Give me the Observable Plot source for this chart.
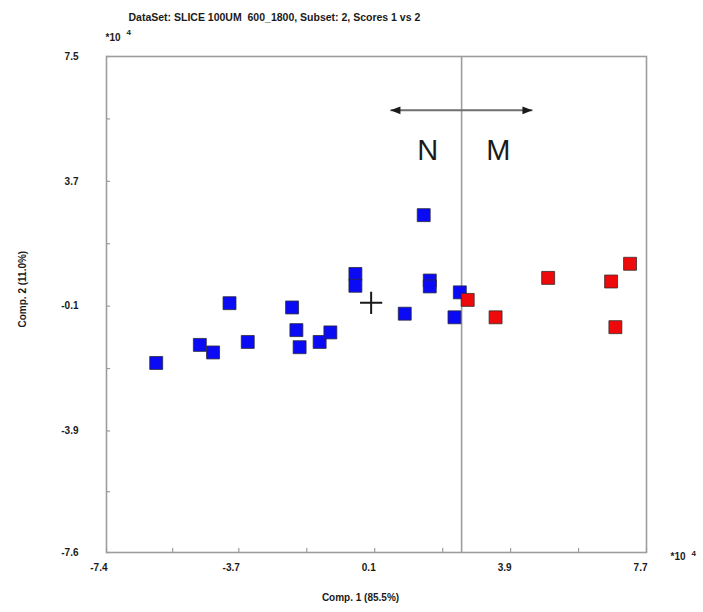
<!DOCTYPE html>
<html>
<head>
<meta charset="utf-8">
<script src="https://cdn.jsdelivr.net/npm/d3@7"></script>
<script src="https://cdn.jsdelivr.net/npm/@observablehq/plot@0.6"></script>
<style>
  html, body { margin: 0; padding: 0; background: #fff; }
  #chart svg { display: block; }
</style>
</head>
<body>
<div id="chart"></div>
<script>
// ---- Data (scores, units ×10^4) ----
const normalX = [-6.01, -4.79, -4.42, -3.96, -3.45, -2.21, -2.09, -2.00, -1.44, -1.14, -0.44, -0.44, 1.47, 1.64, 1.64, 2.48, 0.94, 2.33];
const normalY = [-1.83, -1.28, -1.51, -0.01, -1.19, -0.14, -0.83, -1.35, -1.19, -0.90, 0.88, 0.52, 2.67, 0.68, 0.50, 0.32, -0.33, -0.44];
const mutantX = [2.70, 3.48, 4.95, 6.71, 7.24, 6.83];
const mutantY = [0.09, -0.44, 0.76, 0.65, 1.19, -0.74];

// ---- Axis ticks ----
const xTickValues = [-7.4, -3.7, 0.1, 3.9, 7.7];
const xTickLabels = ["-7.4", "-3.7", "0.1", "3.9", "7.7"];
const xMinorTicks = [-5.55, -1.8, 2.0, 5.8];
const yTickValues = [-7.6, -3.9, -0.1, 3.7, 7.5];
const yTickLabels = ["-7.6", "-3.9", "-0.1", "3.7", "7.5"];
const yMinorTicks = [-5.75, -2.0, 1.8, 5.6];

// ---- Annotations ----
const dividerX = [2.53];
const arrowY = 5.86;
const arrowLeft = 0.54;
const arrowRight = 4.51;
const groupLabels = ["N", "M"];
const groupLabelX = [1.58, 3.56];
const groupLabelY = [4.64, 4.64];
const centerMark = [{x: 0, y: 0}];

const titleText = "DataSet: SLICE 100UM  600_1800, Subset: 2, Scores 1 vs 2";
const xLabel = "Comp. 1 (85.5%)";
const yLabel = "Comp. 2 (11.0%)";
const scaleNote = "*10";
const scaleExp = "4";

// ---- Build tables ----
const normal = normalX.map((x, i) => ({x, y: normalY[i]}));
const mutant = mutantX.map((x, i) => ({x, y: mutantY[i]}));
const arrowLine = [{x1: arrowLeft, x2: arrowRight, y: arrowY}];
const arrowHeads = [{x: arrowLeft, y: arrowY, rot: -90}, {x: arrowRight, y: arrowY, rot: 90}];
const labelsNM = groupLabels.map((t, i) => ({t, x: groupLabelX[i], y: groupLabelY[i]}));

const headSymbol = {
  draw(ctx) {
    ctx.moveTo(0, 0);
    ctx.lineTo(-3.8, 10);
    ctx.lineTo(3.8, 10);
    ctx.closePath();
  }
};

const W = 703, H = 612, mL = 106, mR = 57, mT = 56, mB = 60;
const frameH = H - mT - mB, frameW = W - mL - mR;
const gray = "#9d9d9d";
const ink = "#1a1a1a";
const note = {fontSize: 10, fontWeight: "bold", fill: ink, textAnchor: "start"};
const exp = {fontSize: 8, fontWeight: "bold", fill: ink, textAnchor: "start"};

const chart = Plot.plot({
  width: W,
  height: H,
  marginLeft: mL,
  marginRight: mR,
  marginTop: mT,
  marginBottom: mB,
  x: {domain: [-7.4, 7.7], axis: null},
  y: {domain: [-7.6, 7.5], axis: null},
  style: {fontFamily: "'Liberation Sans', Arial, sans-serif", background: "#fff", color: ink},
  marks: [
    Plot.frame({stroke: gray, strokeWidth: 1.6}),
    // inward tick marks on bottom and left
    Plot.tickX([...xTickValues, ...xMinorTicks], {x: d => d, stroke: gray, strokeWidth: 1.2, insetTop: frameH - 4}),
    Plot.tickY([...yTickValues, ...yMinorTicks], {y: d => d, stroke: gray, strokeWidth: 1.2, insetRight: frameW - 4}),
    // tick labels
    Plot.text(xTickValues, {x: d => d, frameAnchor: "bottom", text: (d, i) => xTickLabels[i], textAnchor: "end", dx: 1, dy: 18, fontSize: 10, fontWeight: "bold", fill: ink}),
    Plot.text(yTickValues, {y: d => d, frameAnchor: "left", text: (d, i) => yTickLabels[i], textAnchor: "end", dx: -28, fontSize: 10, fontWeight: "bold", fill: ink}),
    // divider line
    Plot.ruleX(dividerX, {stroke: gray, strokeWidth: 1.6}),
    // double arrow
    Plot.link(arrowLine, {x1: "x1", x2: "x2", y1: "y", y2: "y", stroke: "#6f6f6f", strokeWidth: 2}),
    Plot.dot(arrowHeads, {x: "x", y: "y", symbol: headSymbol, rotate: "rot", fill: ink, stroke: "none", r: 5}),
    // group labels
    Plot.text(labelsNM, {x: "x", y: "y", text: "t", fontSize: 29, fill: ink}),
    // scores
    Plot.dot(normal, {x: "x", y: "y", symbol: "square", r: 7.3, fill: "#0a0af5", stroke: "#2a2a3a", strokeWidth: 0.8}),
    Plot.dot(mutant, {x: "x", y: "y", symbol: "square", r: 7.3, fill: "#ee0a0a", stroke: "#3a2a2a", strokeWidth: 0.8}),
    // center cross
    Plot.dot(centerMark, {x: "x", y: "y", symbol: "plus", r: 7.2, stroke: ink, strokeWidth: 2}),
    // titles and notes
    Plot.text([titleText], {frameAnchor: "top-left", dx: 22, dy: -43, textAnchor: "start", fontSize: 10.5, fontWeight: "bold", fill: ink}),
    Plot.text([scaleNote], {frameAnchor: "top-left", dx: -1, dy: -23, ...note}),
    Plot.text([scaleExp], {frameAnchor: "top-left", dx: 20, dy: -27, ...exp}),
    Plot.text([scaleNote], {frameAnchor: "bottom-right", dx: 24, dy: 7, ...note}),
    Plot.text([scaleExp], {frameAnchor: "bottom-right", dx: 45, dy: 3, ...exp}),
    Plot.text([xLabel], {frameAnchor: "bottom", dx: -16, dy: 48, fontSize: 10, fontWeight: "bold", fill: ink}),
    Plot.text([yLabel], {frameAnchor: "left", dx: -84, dy: 23, rotate: -90, fontSize: 10, fontWeight: "bold", fill: ink})
  ]
});

document.getElementById("chart").appendChild(chart);
</script>
</body>
</html>
